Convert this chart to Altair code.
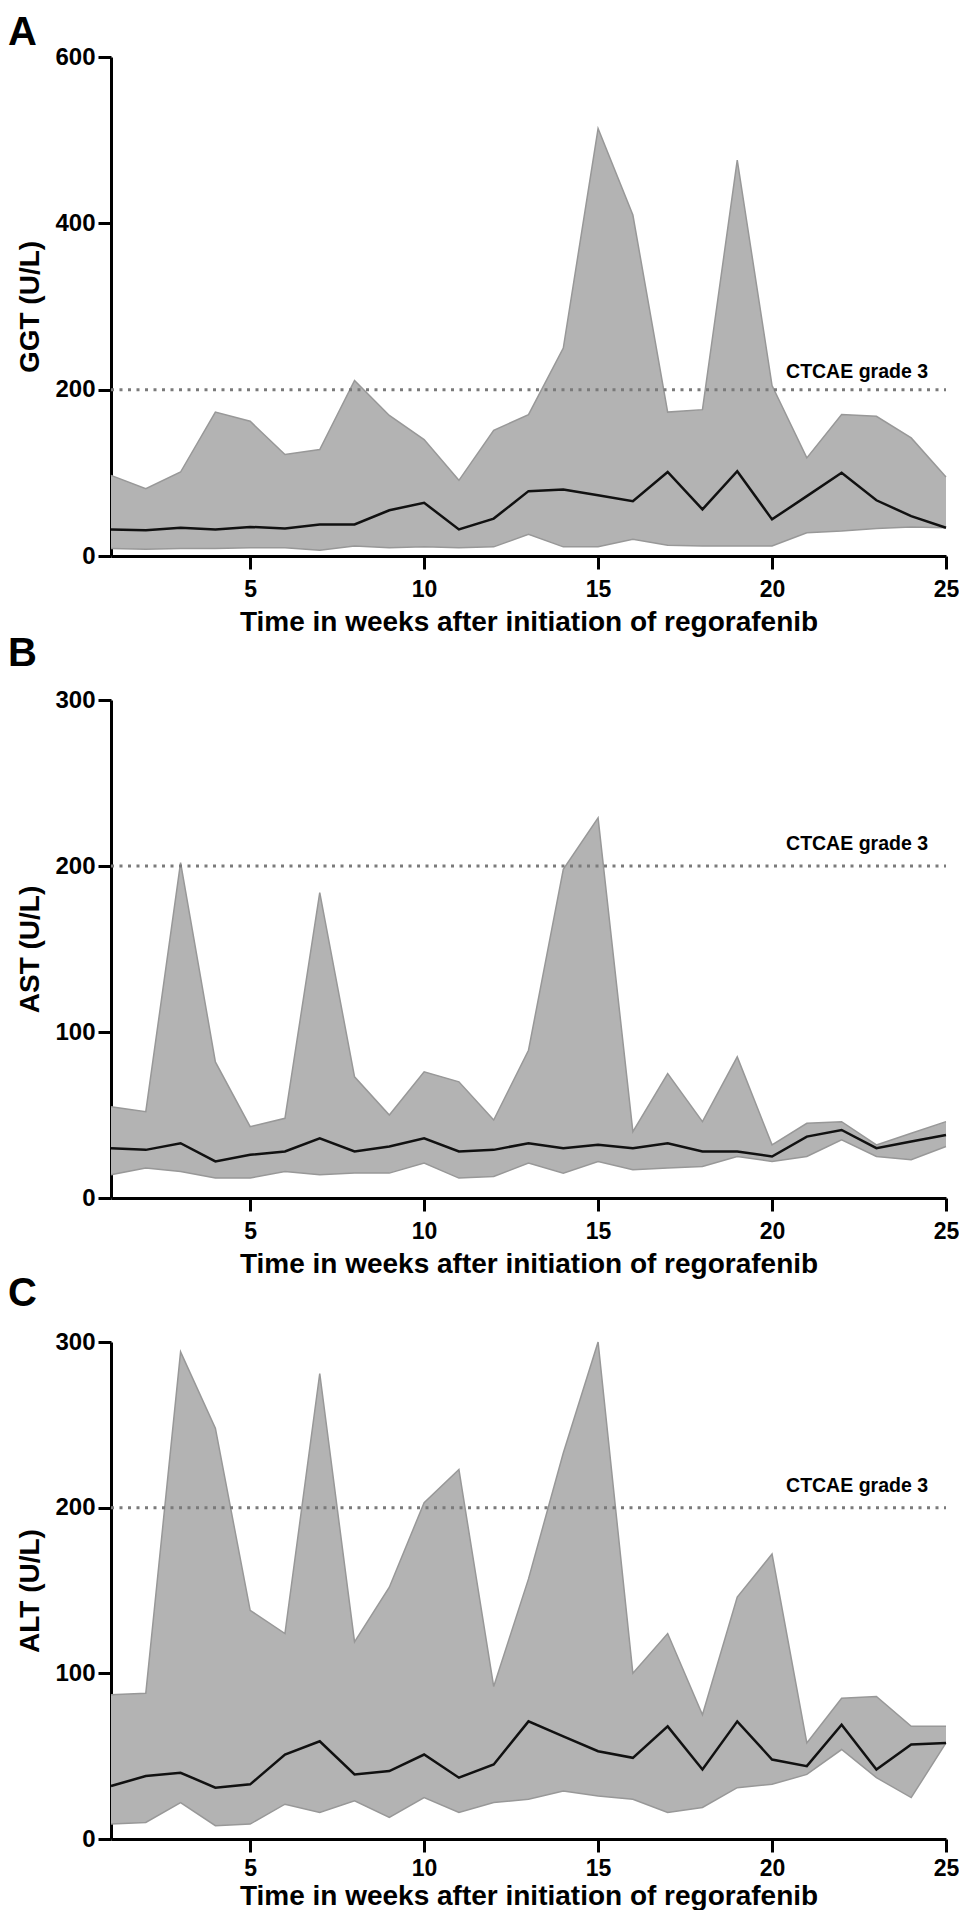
import altair as alt
import pandas as pd

FONT = "Liberation Sans"
XTITLE = "Time in weeks after initiation of regorafenib"

weeks = [1, 2, 3, 4, 5, 6, 7, 8, 9, 10, 11, 12, 13, 14, 15, 16, 17, 18, 19, 20, 21, 22, 23, 24, 25]

# Panel A: GGT (U/L)
ggt_upper = [97, 81, 101, 173, 162, 122, 128, 211, 169, 140, 91, 151, 170, 250, 514, 410, 173, 176, 476, 205, 118, 170, 168, 142, 95]
ggt_median = [32, 31, 34, 32, 35, 33, 38, 38, 55, 64, 32, 45, 78, 80, 73, 66, 101, 56, 102, 44, 72, 100, 67, 48, 34]
ggt_lower = [9, 8, 9, 9, 10, 10, 7, 12, 10, 11, 10, 11, 26, 11, 11, 20, 13, 12, 12, 12, 28, 30, 33, 35, 34]

# Panel B: AST (U/L)
ast_upper = [55, 52, 202, 82, 43, 48, 184, 73, 50, 76, 70, 47, 89, 198, 229, 40, 75, 46, 85, 32, 45, 46, 32, 39, 46]
ast_median = [30, 29, 33, 22, 26, 28, 36, 28, 31, 36, 28, 29, 33, 30, 32, 30, 33, 28, 28, 25, 37, 41, 30, 34, 38]
ast_lower = [14, 18, 16, 12, 12, 16, 14, 15, 15, 21, 12, 13, 21, 15, 22, 17, 18, 19, 25, 22, 25, 35, 25, 23, 31]

# Panel C: ALT (U/L)
alt_upper = [87, 88, 294, 248, 138, 124, 281, 119, 152, 203, 223, 92, 157, 233, 300, 100, 124, 75, 146, 172, 58, 85, 86, 68, 68]
alt_median = [32, 38, 40, 31, 33, 51, 59, 39, 41, 51, 37, 45, 71, 62, 53, 49, 68, 42, 71, 48, 44, 69, 42, 57, 58]
alt_lower = [9, 10, 22, 8, 9, 21, 16, 23, 13, 25, 16, 22, 24, 29, 26, 24, 16, 19, 31, 33, 39, 54, 37, 25, 58]

x_ticks = [5, 10, 15, 20, 25]
grade3 = 200
grade3_label = "CTCAE grade 3"


def panel(letter, ytitle, ymax, yticks, upper, median, lower, height, letter_y, label_dy,
          x_label_pad=9, x_title_pad=7):
    df = pd.DataFrame({"week": weeks, "upper": upper, "median": median, "lower": lower})
    base = alt.Chart(df)
    xenc = alt.X(
        "week:Q",
        scale=alt.Scale(domain=[1, 25], nice=False, zero=False),
        axis=alt.Axis(values=x_ticks, title=XTITLE, labelPadding=x_label_pad, titlePadding=x_title_pad,
                      labelFontSize=23, labelFlush=False),
    )
    yenc = alt.Y(
        "upper:Q",
        scale=alt.Scale(domain=[0, ymax], nice=False),
        axis=alt.Axis(values=yticks, title=ytitle, labelPadding=3, titlePadding=10,
                      labelFontSize=24),
    )
    band = base.mark_area(color="#b3b3b3", opacity=1).encode(x=xenc, y=yenc, y2="lower:Q")
    edge_u = base.mark_line(color="#989898", strokeWidth=1.5).encode(x="week:Q", y="upper:Q")
    edge_l = base.mark_line(color="#989898", strokeWidth=1.5).encode(x="week:Q", y="lower:Q")
    med = base.mark_line(color="#111111", strokeWidth=2.5).encode(x="week:Q", y="median:Q")

    rdf = pd.DataFrame({"x": [1], "x2": [25], "y": [grade3], "t": [grade3_label], "xt": [25]})
    rule = alt.Chart(rdf).mark_rule(color="#7a7a7a", strokeWidth=3, strokeDash=[3, 5.5]).encode(
        x="x:Q", x2="x2:Q", y="y:Q"
    )
    lab = alt.Chart(rdf).mark_text(
        align="right", baseline="alphabetic", dx=-18, dy=label_dy,
        fontSize=19.5, fontWeight="bold", font=FONT, color="black"
    ).encode(x="xt:Q", y="y:Q", text="t:N")

    ldf = pd.DataFrame({"t": [letter]})
    let = alt.Chart(ldf).mark_text(
        align="left", baseline="alphabetic", fontSize=40, fontWeight="bold", font=FONT, color="black"
    ).encode(x=alt.value(-103), y=alt.value(letter_y), text="t:N")

    return alt.layer(band, edge_u, edge_l, med, rule, lab, let).properties(width=835, height=height)


pA = panel("A", "GGT (U/L)", 600, [0, 200, 400, 600], ggt_upper, ggt_median, ggt_lower, 499, -12, -12)
pB = panel("B", "AST (U/L)", 300, [0, 100, 200, 300], ast_upper, ast_median, ast_lower, 498, -34, -16)
pC = panel("C", "ALT (U/L)", 300, [0, 100, 200, 300], alt_upper, alt_median, alt_lower, 497, -36, -16,
           x_label_pad=5, x_title_pad=2)

chart = alt.vconcat(pA, pB, pC, spacing=144, bounds="flush").properties(
    padding={"left": 0, "top": 5, "right": 0, "bottom": 0}
).configure_view(stroke=None).configure_axis(
    grid=False,
    domainColor="black",
    domainWidth=3,
    tickColor="black",
    tickWidth=3,
    tickSize=13,
    labelFont=FONT,
    labelFontWeight="bold",
    labelColor="black",
    titleFont=FONT,
    titleFontSize=28,
    titleFontWeight="bold",
    titleColor="black",
)

chart.save("out.html", embed_options={"renderer": "svg", "actions": False})
